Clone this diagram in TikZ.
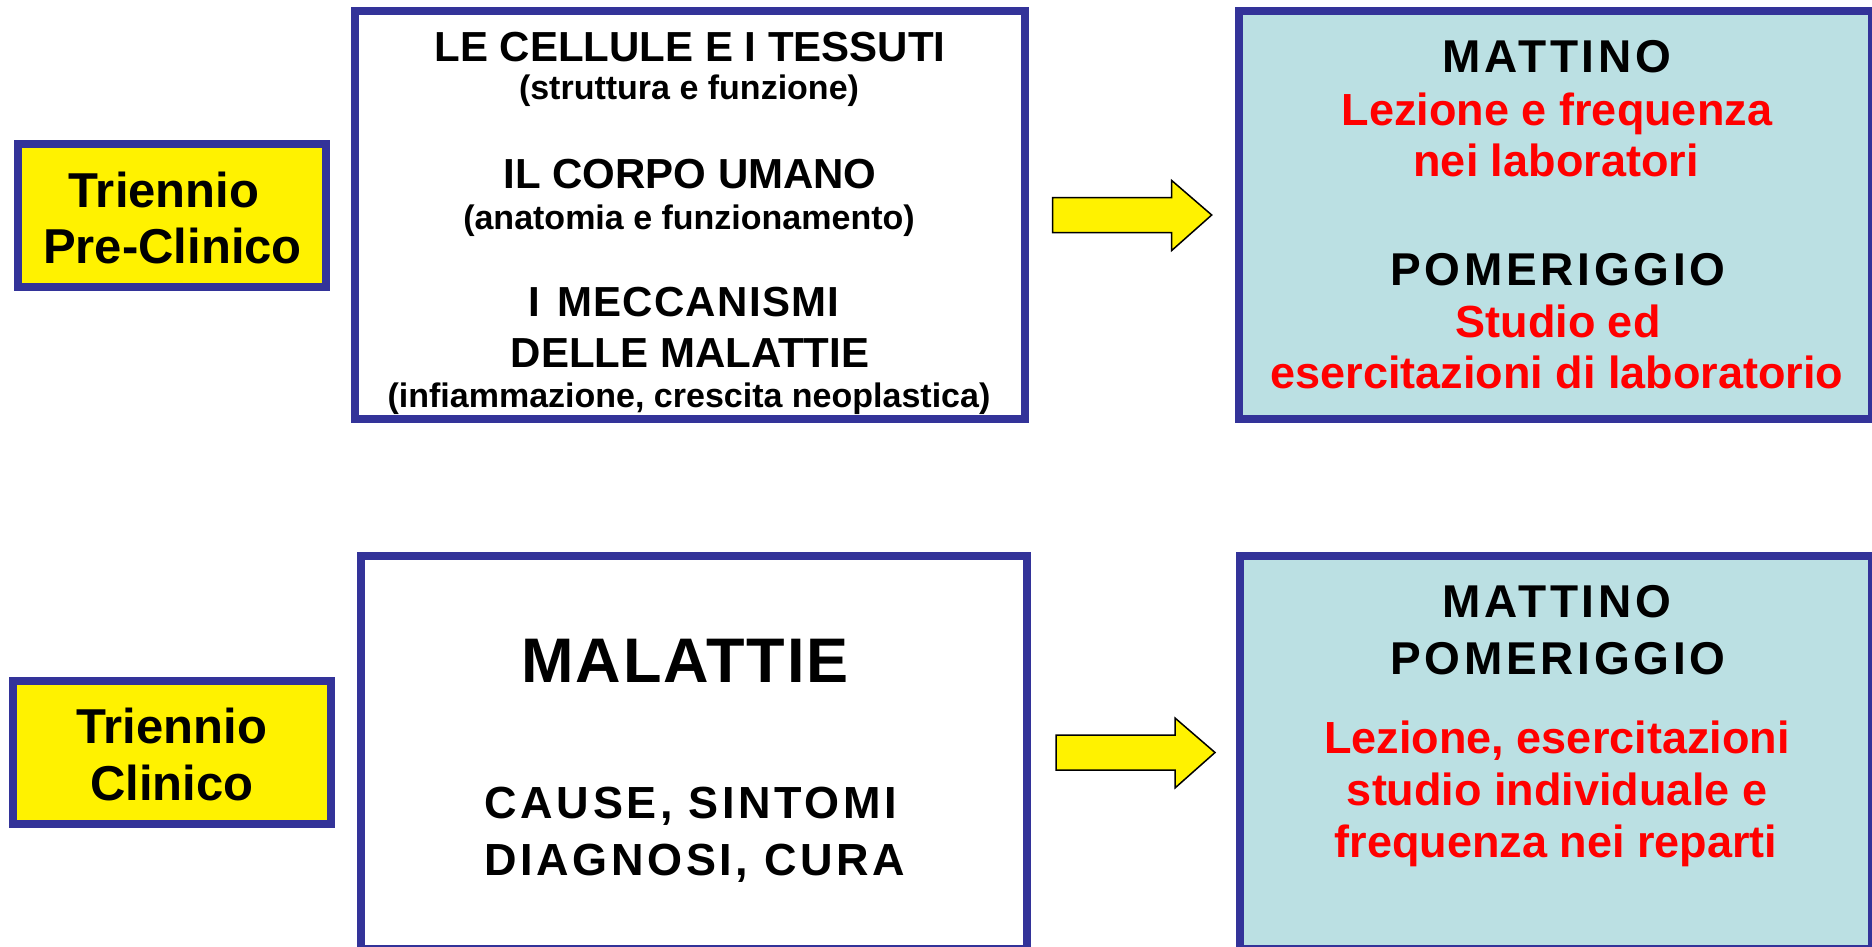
\documentclass[tikz,border=0pt]{standalone}
\usepackage{fontspec}
\setmainfont{Liberation Sans}
\newfontfamily\spacedfont{Liberation Sans}[LetterSpace=8]
\newfontfamily\lightspacedfont{Liberation Sans}[LetterSpace=3]
\usetikzlibrary{calc}
\definecolor{bordblue}{HTML}{333399}
\definecolor{tealfill}{HTML}{BBE0E3}
\definecolor{redtxt}{HTML}{FF0000}
\tikzset{
  frame/.style={draw=bordblue, line width=8pt, inner sep=0pt},
  ybox/.style={frame, fill=yellow},
  wbox/.style={frame, fill=white},
  tbox/.style={frame, fill=tealfill},
  txt/.style={anchor=base, inner sep=0pt, outer sep=0pt},
  yel/.style={txt, font=\fontsize{49pt}{56pt}\selectfont\bfseries},
  head/.style={txt, font=\fontsize{42pt}{50pt}\selectfont\bfseries},
  headsp/.style={txt, font=\lightspacedfont\fontsize{42pt}{50pt}\selectfont\bfseries},
  sub/.style={txt, font=\fontsize{34pt}{40pt}\selectfont\bfseries},
  caps/.style={txt, font=\spacedfont\fontsize{46pt}{54pt}\selectfont\bfseries},
  capsb/.style={txt, font=\spacedfont\fontsize{45pt}{54pt}\selectfont\bfseries},
  big/.style={txt, font=\lightspacedfont\fontsize{63pt}{70pt}\selectfont\bfseries},
  redl/.style={txt, text=redtxt, font=\fontsize{45pt}{52pt}\selectfont\bfseries},
  blockarrow/.style={draw=black, fill=yellow, line width=1.5pt, line join=miter},
}
\begin{document}
\begin{tikzpicture}[x=1pt,y=-1pt]
\useasboundingbox (0,0) rectangle (1872,947);
\fill[white] (0,0) rectangle (1872,947);

% boxes
\node[ybox, minimum width=308.3pt, minimum height=142.5pt] (y1) at (171.65,215.45) {};
\node[wbox, minimum width=670pt, minimum height=408pt] (m1) at (690,215) {};
\node[tbox, minimum width=633pt, minimum height=408pt] (t1) at (1555.5,215) {};
\node[ybox, minimum width=317.2pt, minimum height=143pt] (y2) at (171.9,752.5) {};
\node[wbox, minimum width=666pt, minimum height=393pt] (m2) at (694,752.5) {};
\node[tbox, minimum width=632.5pt, minimum height=393pt] (t2) at (1555.75,752.5) {};

% yellow labels
\node[yel] (y1a) at (164,207.5) {Triennio};
\node[yel] (y1b) at (172.5,263) {Pre-Clinico};
\node[yel] (y2a) at (171.7,743.5) {Triennio};
\node[yel] (y2b) at (172,800) {Clinico};

% top middle box
\node[head] (m1a) at (690,62) {LE CELLULE E I TESSUTI};
\node[sub]  (m1b) at (689,100) {(struttura e funzione)};
\node[head] (m1c) at (690,189) {IL CORPO UMANO};
\node[sub]  (m1d) at (689,229) {(anatomia e funzionamento)};
\node[headsp] (m1e) at (684,316) {I\hspace{4pt} MECCANISMI};
\node[head] (m1f) at (690,367) {DELLE MALATTIE};
\node[sub]  (m1g) at (689,407) {(infiammazione, crescita neoplastica)};

% top right box
\node[caps] (t1a) at (1557,73) {MATTINO};
\node[redl] (t1b) at (1557,126) {Lezione e frequenza};
\node[redl] (t1c) at (1556,177) {nei laboratori};
\node[caps] (t1d) at (1558,285) {POMERIGGIO};
\node[redl] (t1e) at (1558,337) {Studio ed};
\node[redl] (t1f) at (1557,388) {esercitazioni di laboratorio};

% bottom middle box
\node[big]   (m2a) at (685,682) {MALATTIE};
\node[capsb] (m2b) at (691,818) {CAUSE, SINTOMI};
\node[capsb] (m2c) at (695,875) {DIAGNOSI, CURA};

% bottom right box
\node[caps] (t2a) at (1557,617) {MATTINO};
\node[caps] (t2b) at (1558,674) {POMERIGGIO};
\node[redl] (t2c) at (1557,753) {Lezione, esercitazioni};
\node[redl] (t2d) at (1557,805.5) {studio individuale e};
\node[redl] (t2e) at (1556,857.5) {frequenza nei reparti};

% block arrows
\coordinate (a1s) at ($(m1.east)+(23.7,0)$);
\coordinate (a1t) at ($(t1.west)+(-23.3,0)$);
\coordinate (a2s) at ($(m2.east)+(25,0)$);
\coordinate (a2t) at ($(t2.west)+(-20.5,0)$);
\draw[blockarrow] (a1s) ++(0,-17.5) -- ++(119,0) -- ++(0,-17) -- (a1t) -- ++(-40,35.5) -- ++(0,-18) -- ++(-119,0) -- cycle;
\draw[blockarrow] (a2s) ++(0,-17.5) -- ++(119,0) -- ++(0,-17) -- (a2t) -- ++(-40,35.5) -- ++(0,-18) -- ++(-119,0) -- cycle;
\end{tikzpicture}
\end{document}
